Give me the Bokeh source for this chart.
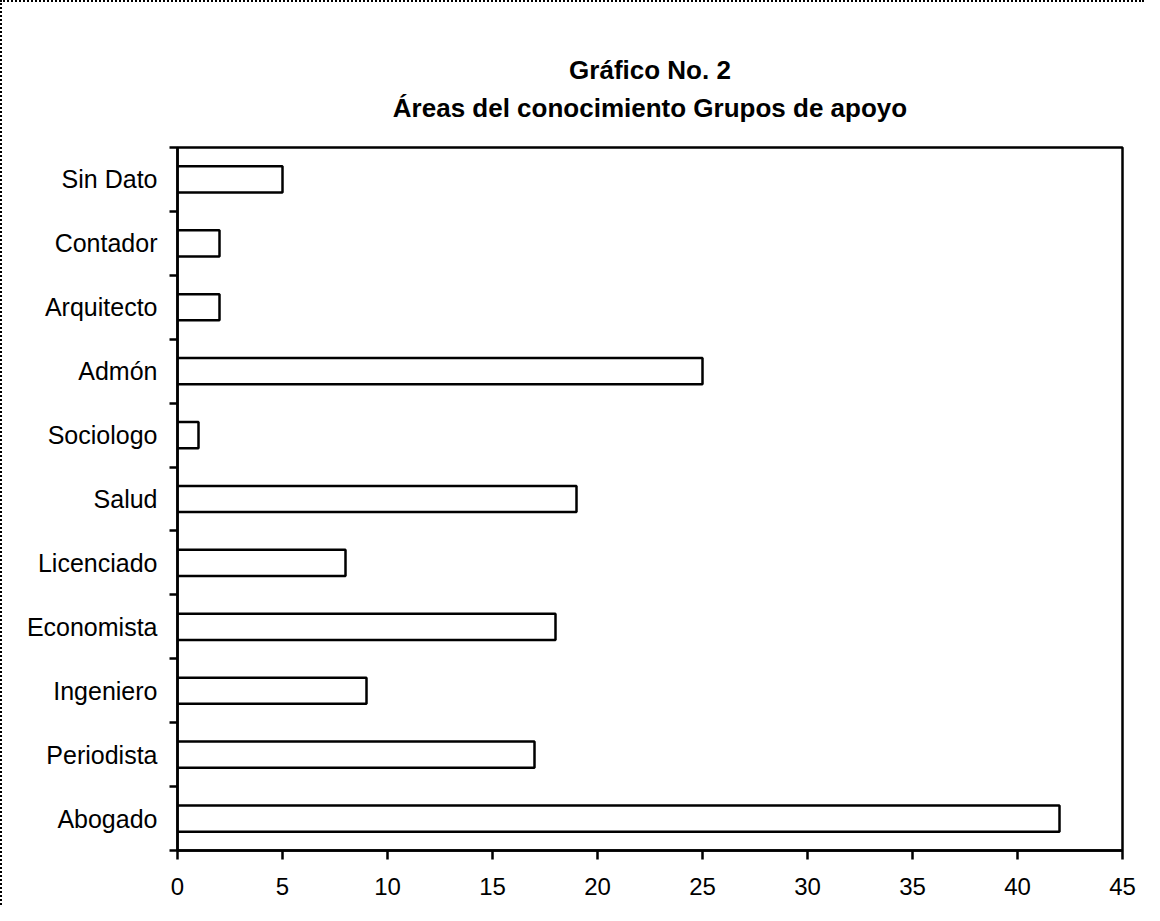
from bokeh.plotting import figure
from bokeh.models import FixedTicker, Title, Range1d
from bokeh.embed import file_html
from bokeh.resources import INLINE

# categories from bottom to top
categories = ["Abogado", "Periodista", "Ingeniero", "Economista", "Licenciado",
              "Salud", "Sociologo", "Admón", "Arquitecto", "Contador", "Sin Dato"]
values = [42, 17, 9, 18, 8, 19, 1, 25, 2, 2, 5]
x_ticks = [0, 5, 10, 15, 20, 25, 30, 35, 40, 45]
title_line1 = "Gráfico No. 2"
title_line2 = "Áreas del conocimiento Grupos de apoyo"

FONT = "Liberation Sans"

p = figure(width=1144, height=905, output_backend="svg", toolbar_location=None,
           x_range=Range1d(0, 45), y_range=Range1d(0, len(categories)),
           min_border_left=175, min_border_right=24, min_border_top=145,
           min_border_bottom=57)
p.title = None

centers = [i + 0.5 for i in range(len(categories))]
p.hbar(y=centers, right=values, left=0, height=0.41,
       fill_color="white", line_color="black", line_width=2.5)

# two-line title, centred over the plot frame
p.add_layout(Title(text=title_line1 + "\n" + title_line2, text_font=FONT,
                   text_font_size="26px", text_font_style="bold",
                   text_color="black", align="center", text_align="center",
                   text_line_height=1.29, standoff=48), "above")

p.grid.visible = False
p.outline_line_color = "black"
p.outline_line_width = 2.5
p.background_fill_color = "white"
p.border_fill_color = "white"

# x axis
xa = p.xaxis[0]
xa.ticker = FixedTicker(ticks=x_ticks, minor_ticks=[])
xa.axis_line_width = 2.5
xa.major_tick_line_width = 2.5
xa.major_tick_in = 0
xa.major_tick_out = 9
xa.major_label_standoff = 18
xa.major_label_text_font = FONT
xa.major_label_text_font_size = "24px"
xa.major_label_text_color = "black"

# y axis: labels at band centers, ticks at band boundaries
ya = p.yaxis[0]
ya.ticker = FixedTicker(ticks=centers, minor_ticks=list(range(len(categories) + 1)))
ya.major_label_overrides = {c: name for c, name in zip(centers, categories)}
ya.axis_line_width = 2.5
ya.major_tick_line_color = None
ya.major_tick_in = 0
ya.major_tick_out = 8
ya.minor_tick_in = 0
ya.minor_tick_out = 8
ya.minor_tick_line_width = 2.5
ya.major_label_standoff = 12
ya.major_label_text_font = FONT
ya.major_label_text_font_size = "25px"
ya.major_label_text_color = "black"

p.styles = {"border-top": "2px dotted black", "border-left": "2px dotted black"}

open("out.html", "w").write(file_html(p, INLINE))
